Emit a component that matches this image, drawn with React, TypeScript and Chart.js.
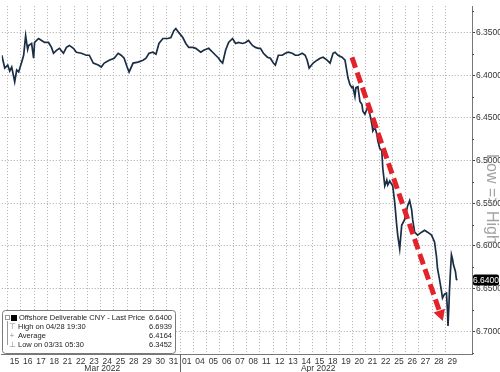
import React, { useEffect, useRef } from "react";
import { Chart, registerables } from "chart.js";

Chart.register(...registerables);

// ---- data ----
const dayLabels = [
  "15", "16", "17", "18", "21", "22", "23", "24", "25", "28", "29", "30", "31",
  "01", "04", "05", "06", "07", "08", "11", "12", "13", "14", "15", "18", "19",
  "20", "21", "22", "25", "26", "27", "28", "29",
];
const monthLabels = ["Mar 2022", "Apr 2022"];
const monthCenters = [7.13, 23.4];
const monthBreak = 13;

const yTicks = [6.35, 6.4, 6.45, 6.5, 6.55, 6.6, 6.65, 6.7];
const yMinorTicks = [6.325, 6.375, 6.425, 6.475, 6.525, 6.575, 6.625, 6.675, 6.725];

// time in trading days from Mar 15 (fractional = intraday)
const times = [
  -0.45, -0.225, 0, 0.15, 0.3, 0.525, 0.675, 0.825, 1.05, 1.2, 1.35, 1.5, 1.575, 1.8, 1.95, 2.025,
  2.325, 2.55, 2.775, 3.075, 3.3, 3.45, 3.675, 3.9, 4.2, 4.425, 4.65, 4.95, 5.175, 5.55, 5.925, 6.15,
  6.45, 6.825, 7.05, 7.275, 7.65, 8.025, 8.325, 8.55, 8.775, 9.0, 9.15, 9.45, 9.825, 10.2, 10.425,
  10.65, 10.95, 11.175, 11.4, 11.7, 12.075, 12.3, 12.525, 12.675, 12.9, 13.2, 13.425, 13.65, 13.95,
  14.175, 14.55, 14.775, 15.15, 15.45, 15.675, 15.9, 16.05, 16.2, 16.425, 16.65, 16.95, 17.175, 17.4,
  17.7, 17.925, 18.15, 18.45, 18.675, 18.9, 19.05, 19.275, 19.575, 19.8, 20.025, 20.175, 20.4, 20.7,
  20.925, 21.15, 21.45, 21.675, 21.9, 22.2, 22.425, 22.575, 22.725, 23.025, 23.325, 23.55, 23.775,
  24.075, 24.3, 24.525, 24.675, 24.9, 25.2, 25.425, 25.575, 25.65, 25.8, 25.95, 26.025, 26.175, 26.25,
  26.4, 26.55, 26.7, 26.775, 26.925, 27.075, 27.15, 27.3, 27.45, 27.525, 27.675, 27.825, 27.9, 28.05,
  28.2, 28.275, 28.425, 28.575, 28.65, 28.8, 29.025, 29.175, 29.325, 29.4, 29.55, 29.7, 29.925, 30.15,
  30.3, 30.45, 30.525, 30.675, 30.9, 31.2, 31.425, 31.65, 31.95, 32.175, 32.325, 32.4, 32.55, 32.7,
  32.775, 32.925, 33.075, 33.15, 33.19, 33.26, 33.3, 33.375, 33.45, 33.525, 33.6, 33.75, 33.825, 33.9,
];
const prices = [
  6.3765, 6.3915, 6.388, 6.3949, 6.3903, 6.4076, 6.3938, 6.3961, 6.3846, 6.3765, 6.3535, 6.3696, 6.365,
  6.3627, 6.38, 6.3615, 6.3569, 6.3592, 6.3615, 6.3615, 6.3673, 6.3742, 6.3707, 6.3684, 6.3742, 6.3673,
  6.365, 6.3684, 6.373, 6.3742, 6.3765, 6.3765, 6.3857, 6.388, 6.3903, 6.3857, 6.3823, 6.38, 6.3742,
  6.3765, 6.38, 6.3903, 6.3961, 6.3857, 6.3846, 6.3823, 6.38, 6.3742, 6.373, 6.3753, 6.3627, 6.3569,
  6.3569, 6.3558, 6.3477, 6.3452, 6.35, 6.3558, 6.3627, 6.3673, 6.3673, 6.3684, 6.373, 6.3707, 6.3684,
  6.373, 6.3765, 6.38, 6.3834, 6.3857, 6.3707, 6.3615, 6.3569, 6.3627, 6.3615, 6.3627, 6.3615, 6.3592,
  6.365, 6.3673, 6.3684, 6.3684, 6.3742, 6.3788, 6.38, 6.3857, 6.388, 6.3765, 6.3765, 6.3742, 6.373,
  6.3742, 6.3765, 6.3765, 6.3742, 6.3765, 6.3823, 6.3915, 6.3857, 6.3823, 6.38, 6.3788, 6.3823, 6.3857,
  6.3742, 6.373, 6.3765, 6.3788, 6.3823, 6.3961, 6.403, 6.4111, 6.4145, 6.4134, 6.4249, 6.4145, 6.4134,
  6.4306, 6.4341, 6.4422, 6.4456, 6.4399, 6.4364, 6.4456, 6.4571, 6.4652, 6.4606, 6.4687, 6.4767, 6.4859,
  6.4882, 6.509, 6.5297, 6.5228, 6.5286, 6.524, 6.5297, 6.5493, 6.5758, 6.5873, 6.6035, 6.5758, 6.5689,
  6.5528, 6.547, 6.5574, 6.5689, 6.5839, 6.5873, 6.5839, 6.5816, 6.5839, 6.5873, 6.5954, 6.6127, 6.6265,
  6.6392, 6.653, 6.6611, 6.6564, 6.6553, 6.676, 6.6939, 6.6703, 6.653, 6.63, 6.6104, 6.615, 6.6219, 6.63,
  6.6392, 6.64,
];

const lastPrice = 6.64;
const legendLabels = [
  "Offshore Deliverable CNY - Last Price",
  "High on 04/28 19:30",
  "Average",
  "Low on 03/31 05:30",
];
const legendValues = ["6.6400", "6.6939", "6.4164", "6.3452"];
const legendSymbols = ["", "\u22A4", "+", "\u22A5"];
const sideTitle = "Low => High";

// trend arrow (data coordinates: trading-day time, price)
const arrowStart = [25.95, 6.379];
const arrowEnd = [32.8, 6.688];

const FONT = "'Liberation Sans', Arial, sans-serif";

const overlayPlugin = {
  id: "overlay",
  afterDatasetsDraw(chart: any) {
    const { ctx, scales } = chart;
    const x = scales.x, y = scales.y;
    const x1 = x.getPixelForValue(arrowStart[0]);
    const y1 = y.getPixelForValue(arrowStart[1]);
    const x2 = x.getPixelForValue(arrowEnd[0]);
    const y2 = y.getPixelForValue(arrowEnd[1]);
    const ang = Math.atan2(y2 - y1, x2 - x1);
    const headLen = 11;
    const bx = x2 - Math.cos(ang) * headLen;
    const by = y2 - Math.sin(ang) * headLen;
    ctx.save();
    ctx.strokeStyle = "#e3222b";
    ctx.fillStyle = "#e3222b";
    ctx.lineWidth = 5;
    ctx.setLineDash([11, 5]);
    ctx.beginPath();
    ctx.moveTo(x1, y1);
    ctx.lineTo(bx, by);
    ctx.stroke();
    ctx.setLineDash([]);
    const w = 6;
    ctx.beginPath();
    ctx.moveTo(x2, y2);
    ctx.lineTo(bx + Math.cos(ang + Math.PI / 2) * w, by + Math.sin(ang + Math.PI / 2) * w);
    ctx.lineTo(bx + Math.cos(ang - Math.PI / 2) * w, by + Math.sin(ang - Math.PI / 2) * w);
    ctx.closePath();
    ctx.fill();
    ctx.restore();
  },
  afterDraw(chart: any) {
    const { ctx, scales, chartArea } = chart;
    const x = scales.x, y = scales.y;
    ctx.save();

    // minor ticks on the value axis
    ctx.strokeStyle = "#555";
    ctx.lineWidth = 1;
    yMinorTicks.forEach((v) => {
      const py = Math.round(y.getPixelForValue(v)) + 0.5;
      ctx.beginPath();
      ctx.moveTo(chartArea.right, py);
      ctx.lineTo(chartArea.right + 2, py);
      ctx.stroke();
    });

    // month separator and labels
    const sx = Math.round(x.getPixelForValue(monthBreak)) + 0.5;
    ctx.strokeStyle = "#666";
    ctx.beginPath();
    ctx.moveTo(sx, chartArea.bottom);
    ctx.lineTo(sx, chart.height);
    ctx.stroke();
    ctx.fillStyle = "#333";
    ctx.font = `8.5px ${FONT}`;
    ctx.textAlign = "center";
    ctx.textBaseline = "middle";
    monthLabels.forEach((m, i) => {
      ctx.fillText(m, x.getPixelForValue(monthCenters[i]), 368.5);
    });

    // side title
    ctx.save();
    ctx.translate(491, 199);
    ctx.rotate(Math.PI / 2);
    ctx.fillStyle = "rgba(140,140,140,0.8)";
    ctx.font = `16px ${FONT}`;
    ctx.textAlign = "center";
    ctx.textBaseline = "middle";
    ctx.fillText(sideTitle, 0, 0);
    ctx.restore();

    // last price tag
    const ly = y.getPixelForValue(lastPrice);
    ctx.fillStyle = "#000";
    ctx.beginPath();
    (ctx as any).roundRect(chartArea.right + 1, ly - 5.5, 26, 11, 2);
    ctx.fill();
    ctx.fillStyle = "#fff";
    ctx.font = `8.5px ${FONT}`;
    ctx.textAlign = "center";
    ctx.textBaseline = "middle";
    ctx.fillText(lastPrice.toFixed(4), chartArea.right + 14, ly + 0.5);

    // legend box
    ctx.fillStyle = "#fff";
    ctx.strokeStyle = "#7a7a7a";
    ctx.lineWidth = 1;
    ctx.beginPath();
    (ctx as any).roundRect(2.5, 310.5, 173, 43, 3);
    ctx.fill();
    ctx.stroke();

    const rows = [318, 327, 336, 345];
    // tree connector
    ctx.strokeStyle = "#999";
    ctx.beginPath();
    ctx.moveTo(7.5, 321);
    ctx.lineTo(7.5, rows[3]);
    ctx.stroke();
    ctx.strokeRect(5.5, 315.5, 4, 4);
    ctx.fillStyle = "#000";
    ctx.fillRect(11, 315, 6, 6);

    ctx.font = `7.5px ${FONT}`;
    ctx.textBaseline = "middle";
    rows.forEach((ry, i) => {
      if (i > 0) {
        ctx.fillStyle = "#888";
        ctx.textAlign = "center";
        ctx.fillText(legendSymbols[i], 12, ry);
      }
      ctx.fillStyle = "#1a1a1a";
      ctx.textAlign = "left";
      ctx.fillText(legendLabels[i], i === 0 ? 19 : 18, ry);
      ctx.textAlign = "right";
      ctx.fillText(legendValues[i], 172, ry);
    });

    ctx.restore();
  },
};

export default function App() {
  const ref = useRef<HTMLCanvasElement | null>(null);

  useEffect(() => {
    document.body.style.margin = "0";
    const canvas = ref.current!;
    const chart = new Chart(canvas, {
      type: "line",
      data: {
        datasets: [
          {
            data: times.map((t, i) => ({ x: t, y: prices[i] })),
            borderColor: "#1a2d44",
            borderWidth: 1.7,
            pointRadius: 0,
            tension: 0,
            fill: false,
          },
        ],
      },
      options: {
        animation: false,
        responsive: false,
        maintainAspectRatio: false,
        layout: { padding: 0 },
        plugins: { legend: { display: false }, tooltip: { enabled: false } },
        scales: {
          x: {
            type: "linear",
            min: -0.45,
            max: 35,
            afterBuildTicks: (axis: any) => {
              axis.ticks = dayLabels.map((_, i) => ({ value: i }));
            },
            afterFit: (axis: any) => {
              axis.height = 18;
            },
            ticks: {
              autoSkip: false,
              maxRotation: 0,
              minRotation: 0,
              labelOffset: 6.66,
              padding: 3,
              color: "#333",
              font: { family: FONT, size: 8.5 },
              callback: (_v: any, i: number) => dayLabels[i],
            },
            grid: { color: "#b0b0b0", lineWidth: 1, drawTicks: false },
            border: { color: "#777", width: 1, dash: [1, 2] },
          },
          y: {
            type: "linear",
            position: "right",
            reverse: true,
            min: 6.3189,
            max: 6.7267,
            afterBuildTicks: (axis: any) => {
              axis.ticks = yTicks.map((v) => ({ value: v }));
            },
            afterFit: (axis: any) => {
              axis.width = 28;
            },
            ticks: {
              padding: 1,
              color: "#333",
              font: { family: FONT, size: 8.5 },
              callback: (v: any) => Number(v).toFixed(4),
            },
            grid: {
              color: "#a8a8a8",
              lineWidth: 1,
              drawTicks: true,
              tickLength: 3,
              tickColor: "#444",
            },
            border: { color: "#777", width: 1, dash: [1, 2] },
          },
        },
      },
      plugins: [overlayPlugin],
    });
    return () => chart.destroy();
  }, []);

  return (
    <div style={{ position: "fixed", left: 0, top: 0, width: 500, height: 372, background: "#fff" }}>
      <canvas ref={ref} width={500} height={372} style={{ display: "block" }} />
    </div>
  );
}
